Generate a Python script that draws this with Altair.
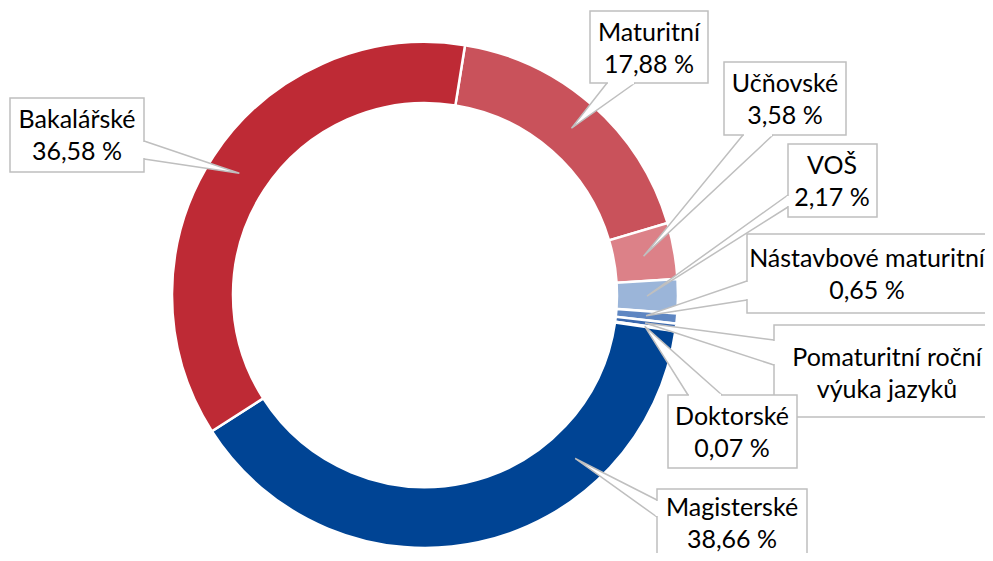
import math
import altair as alt
import pandas as pd

# ---- data ----
categories = ["Maturitní", "Učňovské", "VOŠ", "Nástavbové maturitní",
              "Pomaturitní roční výuka jazyků", "Doktorské", "Magisterské", "Bakalářské"]
values = [17.88, 3.58, 2.17, 0.65, 0.41, 0.07, 38.66, 36.58]
label_names = ["Maturitní", "Učňovské", "VOŠ", "Nástavbové maturitní",
               "Pomaturitní roční\nvýuka jazyků", "Doktorské", "Magisterské", "Bakalářské"]
percent_text = ["17,88 %", "3,58 %", "2,17 %", "0,65 %", "", "0,07 %", "38,66 %", "36,58 %"]
colors = ["#C9525B", "#DC8188", "#9BB5D9", "#5E86C2", "#3A68AE", "#1F4E9A", "#004494", "#BE2A35"]

# ---- layout (page pixel coordinates) ----
CX, CY = 425, 295
R_OUT, R_IN = 253, 192
R_TIP = 222
START_DEG = 9.1
W, H = 977, 545
GRAY = "#BFBFBF"
FONT_SIZE = 25
LINE_H = 32

# callout boxes: x1, x2, y1, y2
boxes = [(590, 708, 11, 83), (724, 846, 62, 135), (788, 877, 144, 217),
         (747, 1010, 234, 313), (774, 1010, 325, 417), (668, 797, 395, 468),
         (657, 807, 489, 575), (10, 144, 98, 172)]
# text block centres
text_pos = [(649, 49), (785, 100), (832, 182), (867, 275), (887, 374),
            (732, 433), (732, 524), (77, 136)]
# wedge bases on box edge
bases = [((607, 83), (635, 83)), ((743, 135), (773, 135)), ((788, 195), (788, 207)),
         ((747, 281), (747, 300)), ((774, 340), (774, 365)), ((688, 395), (722, 395)),
         ((657, 500), (657, 517)), ((144, 141), (144, 159))]
tip_shift = [0, 0, 0, 0, 0, 0, -30.4, 0]

total = sum(values)
arc_df = pd.DataFrame({"cat": categories, "value": values, "idx": list(range(len(values)))})

wedge_rows, cover_rows, box_rows, text_rows = [], [], [], []
cum = 0.0
for i, (c, v) in enumerate(zip(categories, values)):
    mid = cum + v / 2
    cum += v
    ang = math.radians(START_DEG + mid / total * 360 + tip_shift[i])
    tx = CX + R_TIP * math.sin(ang)
    ty = CY - R_TIP * math.cos(ang)
    (b1x, b1y), (b2x, b2y) = bases[i]
    wedge_rows += [
        {"cat": c, "o": 0, "x": b1x, "y": b1y},
        {"cat": c, "o": 1, "x": tx, "y": ty},
        {"cat": c, "o": 2, "x": b2x, "y": b2y},
    ]
    if b1x == b2x:
        cover_rows.append({"cat": c, "x": b1x, "y": b1y + 1, "x2": b2x, "y2": b2y - 1})
    else:
        cover_rows.append({"cat": c, "x": b1x + 1, "y": b1y, "x2": b2x - 1, "y2": b2y})
    x1, x2, y1, y2 = boxes[i]
    box_rows.append({"cat": c, "x": x1, "x2": x2, "y": y1, "y2": y2})
    txt = label_names[i] + ("\n" + percent_text[i] if percent_text[i] else "")
    n_lines = txt.count("\n") + 1
    text_rows.append({"cat": c, "x": text_pos[i][0],
                      "y": text_pos[i][1] - (n_lines - 1) * LINE_H / 2, "t": txt})

wedge_df = pd.DataFrame(wedge_rows)
cover_df = pd.DataFrame(cover_rows)
box_df = pd.DataFrame(box_rows)
text_df = pd.DataFrame(text_rows)

xs = alt.Scale(domain=[8, 8 + W])
ys = alt.Scale(domain=[8, 8 + H], reverse=True)

arcs = alt.Chart(arc_df).mark_arc(
    outerRadius=R_OUT, innerRadius=R_IN, stroke="white", strokeWidth=2.5
).encode(
    theta=alt.Theta("value:Q", stack=True,
                    scale=alt.Scale(range=[math.radians(START_DEG), math.radians(START_DEG) + 2 * math.pi])),
    order=alt.Order("idx:Q"),
    color=alt.Color("cat:N", scale=alt.Scale(domain=categories, range=colors), legend=None),
    x=alt.value(CX - 8),
    y=alt.value(CY - 8),
)

wedges = alt.Chart(wedge_df).mark_line(
    fill="white", stroke=GRAY, strokeWidth=1.5, strokeJoin="miter"
).encode(
    x=alt.X("x:Q", scale=xs, axis=None),
    y=alt.Y("y:Q", scale=ys, axis=None),
    detail="cat:N",
    order=alt.Order("o:Q"),
)

rects = alt.Chart(box_df).mark_rect(fill="white", stroke=GRAY, strokeWidth=1.5).encode(
    x=alt.X("x:Q", scale=xs, axis=None), x2="x2:Q",
    y=alt.Y("y:Q", scale=ys, axis=None), y2="y2:Q",
)

covers = alt.Chart(cover_df).mark_rule(stroke="white", strokeWidth=2.5).encode(
    x=alt.X("x:Q", scale=xs, axis=None), x2="x2:Q",
    y=alt.Y("y:Q", scale=ys, axis=None), y2="y2:Q",
)

texts = alt.Chart(text_df).mark_text(
    font="Lato", fontSize=FONT_SIZE, lineHeight=LINE_H, lineBreak="\n", color="#000000",
    align="center", baseline="middle"
).encode(
    x=alt.X("x:Q", scale=xs, axis=None),
    y=alt.Y("y:Q", scale=ys, axis=None),
    text="t:N",
)

chart = alt.layer(arcs, wedges, rects, covers, texts).properties(
    width=W, height=H, padding=0, autosize=alt.AutoSizeParams(type="none")
).configure_view(stroke=None)

chart.save("out.html", embed_options={"renderer": "svg", "actions": False})
